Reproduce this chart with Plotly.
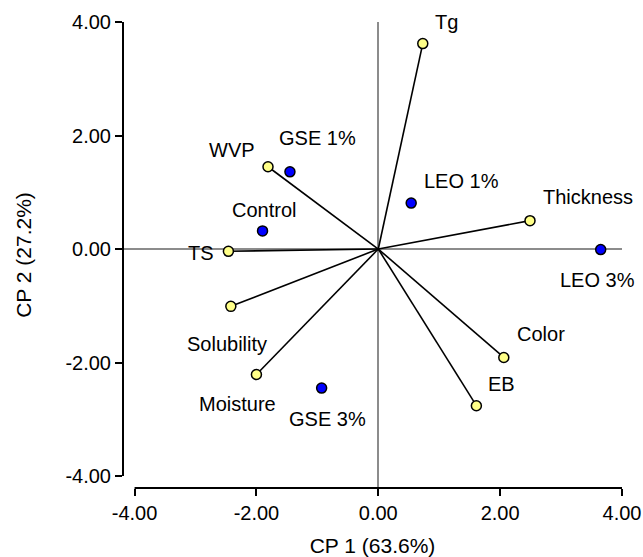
import plotly.graph_objects as go

# ---- data ----
var_names = ["Tg", "Thickness", "WVP", "TS", "Solubility", "Moisture", "Color", "EB"]
var_cp1 = [0.73, 2.49, -1.81, -2.46, -2.42, -2.00, 2.06, 1.61]
var_cp2 = [3.62, 0.50, 1.45, -0.04, -1.01, -2.21, -1.91, -2.76]

sample_names = ["GSE 1%", "Control", "LEO 1%", "LEO 3%", "GSE 3%"]
sample_cp1 = [-1.45, -1.90, 0.54, 3.65, -0.93]
sample_cp2 = [1.36, 0.32, 0.81, -0.01, -2.45]

tick_vals = [-4, -2, 0, 2, 4]
tick_text = ["-4.00", "-2.00", "0.00", "2.00", "4.00"]

# ---- style ----
FONT = "Liberation Sans, Arial, sans-serif"
label_offsets = {  # pixel offsets (dx, dy screen-down)
    "Tg": (24, -22), "Thickness": (58, -24), "WVP": (-36, -17), "TS": (-27, 2),
    "Solubility": (-4, 38), "Moisture": (-19, 30), "Color": (37, -23), "EB": (25, -22),
    "GSE 1%": (28, -34), "Control": (1, -21), "LEO 1%": (50, -22), "LEO 3%": (-3, 30),
    "GSE 3%": (6, 31),
}
x_range = [-4.19, 4.0]
y_range = [-4.21, 4.0]

fig = go.Figure()

# vectors from origin
for n, x, y in zip(var_names, var_cp1, var_cp2):
    fig.add_trace(go.Scatter(x=[0, x], y=[0, y], mode="lines",
                             line=dict(color="black", width=1.6),
                             hoverinfo="skip", showlegend=False))

fig.add_trace(go.Scatter(x=var_cp1, y=var_cp2, mode="markers", text=var_names,
                         marker=dict(size=10, color="#ffff88",
                                     line=dict(color="black", width=1.5)),
                         showlegend=False, cliponaxis=False))
fig.add_trace(go.Scatter(x=sample_cp1, y=sample_cp2, mode="markers", text=sample_names,
                         marker=dict(size=10, color="#0000ff",
                                     line=dict(color="black", width=1.5)),
                         showlegend=False, cliponaxis=False))

annotations = []
for names, xs, ys in [(var_names, var_cp1, var_cp2), (sample_names, sample_cp1, sample_cp2)]:
    for n, x, y in zip(names, xs, ys):
        dx, dy = label_offsets[n]
        annotations.append(dict(x=x, y=y, text=n, showarrow=False,
                                xshift=dx, yshift=-dy,
                                xanchor="center", yanchor="middle",
                                font=dict(family=FONT, size=20, color="black")))

# detached axis lines (span -4..4 only)
def frac(v, r):
    return (v - r[0]) / (r[1] - r[0])

shapes = [
    dict(type="line", xref="paper", yref="paper",
         x0=0, x1=0, y0=frac(tick_vals[0], y_range), y1=frac(tick_vals[-1], y_range),
         line=dict(color="black", width=2)),
    dict(type="line", xref="paper", yref="paper",
         y0=0, y1=0, x0=frac(tick_vals[0], x_range), x1=frac(tick_vals[-1], x_range),
         line=dict(color="black", width=2)),
]

axis_common = dict(
    tickmode="array", tickvals=tick_vals, ticktext=tick_text,
    ticks="outside", ticklen=7, tickwidth=2, tickcolor="black",
    showline=False, showgrid=False, automargin=False,
    zeroline=True, zerolinecolor="#8c8c8c", zerolinewidth=1.5,
    tickfont=dict(family=FONT, size=20, color="black"),
)

fig.update_layout(
    width=643, height=557,
    margin=dict(l=123, r=21, t=22, b=69),
    plot_bgcolor="white", paper_bgcolor="white",
    xaxis=dict(range=x_range, title=dict(text="CP 1 (63.6%)", standoff=16,
                                         font=dict(family=FONT, size=21, color="black")),
               **axis_common),
    yaxis=dict(range=y_range, title=dict(text="CP 2 (27.2%)", standoff=28,
                                         font=dict(family=FONT, size=21, color="black")),
               **axis_common),
    annotations=annotations,
    shapes=shapes,
)

fig.write_html("out.html", config={"displayModeBar": False},
               post_script="document.body.style.margin='0';document.body.style.overflow='hidden';")
